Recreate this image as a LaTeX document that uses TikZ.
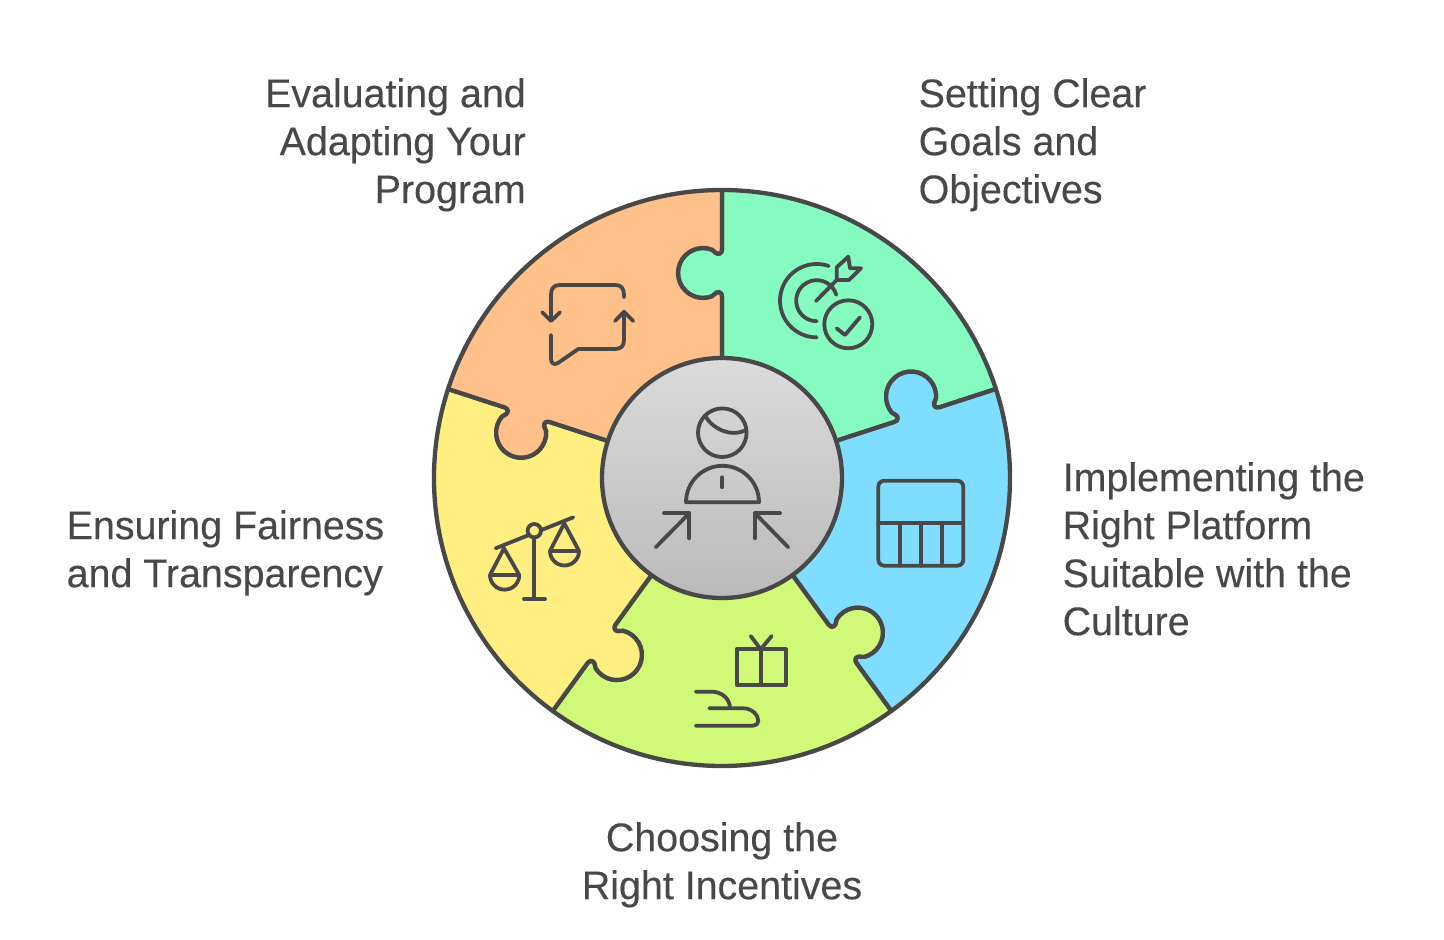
\documentclass[tikz,border=0pt]{standalone}
\usepackage{fontspec}
\setmainfont[FakeStretch=0.985,FakeBold=0.2]{Liberation Sans}
\definecolor{ln}{HTML}{484848}
\definecolor{cgreen}{HTML}{85FBC0}
\definecolor{cblue}{HTML}{7FDDFF}
\definecolor{clime}{HTML}{CFF976}
\definecolor{cyellow}{HTML}{FFEF80}
\definecolor{corange}{HTML}{FFC08A}
\definecolor{gtop}{HTML}{DBDBDB}
\definecolor{gbot}{HTML}{BABABA}
\def\tabout{(0,120) -- (0,181) .. controls (0,186) and (-3.5,186.5) .. (-6,185) .. controls (-7.5,184) and (-8.5,183) .. (-9.88,181.72) arc[start angle=-68.6,end angle=-291.4,radius=25] .. controls (-8.5,227) and (-7.5,226) .. (-6,225) .. controls (-3.5,223.5) and (0,224) .. (0,229) -- (0,288)}
\def\tabin{-- (0,229) .. controls (0,224) and (-3.5,223.5) .. (-6,225) .. controls (-7.5,226) and (-8.5,227) .. (-9.88,228.28) arc[start angle=68.6,end angle=291.4,radius=25] .. controls (-8.5,183) and (-7.5,184) .. (-6,185) .. controls (-3.5,186.5) and (0,186) .. (0,181) -- (0,120)}
\tikzset{
  x=1pt,y=1pt,
  piece/.style={draw=ln,line width=4.3pt,line join=round},
  icon/.style={draw=ln,line width=3.8pt,line cap=round,line join=round},
  lbl/.style={text=ln,inner sep=0pt,font=\fontsize{40}{48}\selectfont},
}
\newcommand{\sector}[2]{\path[piece,fill=#2,rotate=#1] \tabout arc[start angle=90,end angle=18,radius=288] {[rotate=-72] \tabin} -- (0,0) -- cycle;}
\newcommand{\fl}{\rule{0pt}{30pt}}
\begin{document}
\begin{tikzpicture}
\useasboundingbox (-722,-462) rectangle (722,478);
\sector{0}{cgreen}
\sector{-72}{cblue}
\sector{-144}{clime}
\sector{-216}{cyellow}
\sector{-288}{corange}
\shade[top color=gtop,bottom color=gbot] (0,0) circle[radius=120];
\draw[piece] (0,0) circle[radius=120];
\begin{scope}[shift={(-722,478)},yscale=-1]
  % target icon
  \draw[icon] (848.3,324.3) circle[radius=24];
  \draw[icon] (836.7,328.3) -- (845,335) -- (860,317.3);
  \draw[icon] (816,301) -- (836.7,280);
  \draw[icon] (836.7,280) -- (836.7,267.3) -- (848.3,256.7) -- (850,268.3) -- (861,268.3) -- (849,280) -- cycle;
  \draw[icon] (816.7,300.7) ++(-71:36.7) arc[start angle=-71,end angle=-270,radius=36.7];
  \draw[icon] (816.7,300.7) ++(-16.6:20.5) arc[start angle=-16.6,end angle=-270,radius=20.5];
  % speech bubble
  \draw[icon] (551,320) -- (551,295) .. controls (551,288) and (554,285) .. (560,285) -- (615,285) .. controls (621,285) and (624,288) .. (624,295) -- (624,297.3);
  \draw[icon] (542.3,312.3) -- (551,321) -- (560,312.3);
  \draw[icon] (624,312) -- (624,340) .. controls (624,346) and (621,349) .. (615,349) -- (578.3,349) -- (558,363) .. controls (554,365.5) and (551,363) .. (551,359) -- (551,335);
  \draw[icon] (615,321) -- (624,311.7) -- (633.3,321);
  % person
  \draw[icon] (722.3,432.7) circle[radius=24.3];
  \draw[icon] (705,415.7) .. controls (712,428) and (730,438) .. (746,430);
  \draw[icon] (686,502.3) arc[start angle=180,end angle=360,radius=36.5] -- cycle;
  \draw[icon] (722.3,477.3) -- (722.3,487.3);
  \draw[icon] (655.7,547.3) -- (689.3,513.3);
  \draw[icon] (664,513.3) -- (689.3,513.3) -- (689.3,538.3);
  \draw[icon] (788.3,547.3) -- (755,513.3);
  \draw[icon] (780,513.3) -- (755,513.3) -- (755,538.3);
  % gift
  \draw[icon] (736.7,649.3) rectangle (785.7,685);
  \draw[icon] (760.7,649.3) -- (760.7,685);
  \draw[icon] (750.7,636) -- (760.7,649.3) -- (771.7,636);
  % hand
  \draw[icon] (695.7,691.7) -- (711.7,691.7) .. controls (722,691.7) and (730,699) .. (730,708);
  \draw[icon] (709.3,708.3) -- (743.3,708.3) .. controls (752,708.3) and (758.3,715) .. (758.3,721) .. controls (758.3,724) and (756,725.7) .. (753,725.7) -- (695.7,725.7);
  % scale
  \draw[icon] (495.7,548.3) -- (573.3,517.3);
  \draw[icon] (534.3,537.3) -- (534.3,599);
  \draw[icon] (524,599) -- (545,599);
  \draw[icon,fill=cyellow] (534.3,530.7) circle[radius=6.7];
  \draw[icon] (504,548.3) -- (490,575) -- (519.3,575) -- cycle;
  \draw[icon] (490,575) arc[start angle=180,end angle=0,radius=14.65];
  \draw[icon] (564.3,523.3) -- (550,551) -- (579,551) -- cycle;
  \draw[icon] (550,551) arc[start angle=180,end angle=0,radius=14.5];
  % table
  \draw[icon,rounded corners=6pt] (878.3,480.7) rectangle (963.3,565.7);
  \draw[icon] (878.3,523.3) -- (963.3,523.3);
  \draw[icon] (900,523.3) -- (900,565.7);
  \draw[icon] (921,523.3) -- (921,565.7);
  \draw[icon] (942,523.3) -- (942,565.7);
  % labels
  \node[lbl,align=right,anchor=north east] (evaluating) at (526,77) {\fl Evaluating and\\Adapting Your\\Program};
  \node[lbl,align=left,anchor=north west] (setting) at (918.5,77) {\fl Setting Clear\\Goals and\\Objectives};
  \node[lbl,align=left,anchor=north west] (implementing) at (1062.5,461) {\fl Implementing the\\Right Platform\\Suitable with the\\Culture};
  \node[lbl,align=left,anchor=north west] (ensuring) at (66.5,509) {\fl Ensuring Fairness\\and Transparency};
  \node[lbl,align=center,anchor=north] (choosing) at (722,821) {\fl Choosing the\\Right Incentives};
\end{scope}
\end{tikzpicture}
\end{document}
